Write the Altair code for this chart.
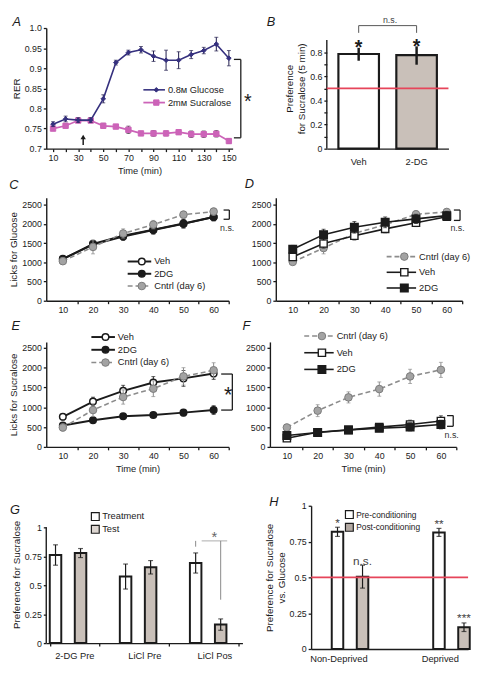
import altair as alt
import pandas as pd

FONT = "Liberation Sans"
INK = "#1b1b1b"
RED = "#e6455a"

# ------------------------------------------------------------------ data
# A: respiratory exchange ratio
a_time = [10, 20, 30, 40, 50, 60, 70, 80, 90, 100, 110, 120, 130, 140, 150]
a_glucose = [0.761, 0.774, 0.771, 0.771, 0.824, 0.914, 0.939, 0.946, 0.930, 0.920, 0.920, 0.934, 0.944, 0.960, 0.925]
a_glucose_err = [0.006, 0.007, 0.006, 0.006, 0.010, 0.006, 0.006, 0.008, 0.013, 0.025, 0.021, 0.010, 0.008, 0.017, 0.019]
a_sucralose = [0.750, 0.757, 0.770, 0.770, 0.757, 0.755, 0.747, 0.738, 0.738, 0.738, 0.741, 0.736, 0.736, 0.737, 0.719]
a_sucralose_err = [0.005, 0.005, 0.005, 0.005, 0.006, 0.005, 0.009, 0.005, 0.007, 0.006, 0.005, 0.008, 0.008, 0.008, 0.006]
a_names = ["0.8ᴍ Glucose", "2mᴍ Sucralose"]

# B: 5-min preference
b_groups = ["Veh", "2-DG"]
b_pref = [0.785, 0.775]
b_err_lo = [0.729, 0.696]
b_err_hi = [0.836, 0.848]
b_marks = ["*", "*"]
chance_level = [0.5]

# C-F: cumulative licks
t_min = [10, 20, 30, 40, 50, 60]
names_cde = ["Veh", "2DG", "Cntrl (day 6)"]

c_veh = [1080, 1480, 1690, 1850, 2010, 2180]
c_veh_err = [50, 80, 90, 100, 110, 100]
c_2dg = [1090, 1460, 1670, 1840, 2000, 2180]
c_2dg_err = [50, 90, 100, 110, 110, 100]
c_cntrl = [1030, 1400, 1750, 1980, 2240, 2320]
c_cntrl_err = [60, 180, 120, 110, 90, 90]

d_cntrl = [1010, 1370, 1750, 1980, 2250, 2310]
d_cntrl_err = [60, 150, 120, 100, 90, 80]
d_veh = [1140, 1490, 1690, 1870, 2030, 2185]
d_veh_err = [70, 120, 110, 100, 100, 90]
d_2dg = [1340, 1720, 1910, 2040, 2130, 2215]
d_2dg_err = [100, 140, 150, 140, 120, 110]

e_veh = [760, 1145, 1415, 1625, 1730, 1855]
e_veh_err = [80, 110, 140, 150, 200, 150]
e_2dg = [540, 675, 775, 805, 865, 930]
e_2dg_err = [60, 60, 60, 60, 80, 110]
e_cntrl = [490, 930, 1260, 1470, 1780, 1935]
e_cntrl_err = [90, 160, 180, 200, 220, 190]

f_cntrl = [490, 915, 1250, 1460, 1780, 1945]
f_cntrl_err = [80, 150, 140, 180, 180, 190]
f_veh = [220, 370, 430, 500, 565, 655]
f_veh_err = [60, 50, 60, 70, 110, 130]
f_2dg = [290, 365, 425, 470, 505, 565]
f_2dg_err = [60, 60, 60, 80, 100, 110]

# G: conditioned preference
g_groups = ["2-DG Pre", "LiCl Pre", "LiCl Pos"]
g_conds = ["Treatment", "Test"]
g_treatment = [0.761, 0.575, 0.692]
g_treatment_err = [0.088, 0.108, 0.087]
g_test = [0.778, 0.655, 0.160]
g_test_err = [0.039, 0.058, 0.049]

# H: preference vs glucose
h_groups = ["Non-Deprived", "Deprived"]
h_conds = ["Pre-conditioning", "Post-conditioning"]
h_pre = [0.818, 0.814]
h_pre_err = [0.032, 0.028]
h_post = [0.505, 0.152]
h_post_err = [0.08, 0.03]
h_marks_pre = ["*", "**"]
h_marks_post = ["n.s.", "***"]


# ------------------------------------------------------------------ helpers
def one(label):
    return pd.DataFrame({"t": [label]})


def series_df(x, v, e):
    return pd.DataFrame({"t": x, "v": v,
                         "lo": [a - b for a, b in zip(v, e)],
                         "hi": [a + b for a, b in zip(v, e)]})


def letter(ch, px, py):
    return alt.Chart(one(ch)).mark_text(
        font=FONT, fontSize=13, fontStyle="italic", align="center",
        baseline="middle", color=INK).encode(
        x=alt.value(px), y=alt.value(py), text="t:N")


def series_layers(df, X, Y, st):
    base = alt.Chart(df)
    out = [base.mark_rule(color=st["err"], strokeWidth=1).encode(
        x=X("t"), y=Y("lo"), y2="hi")]
    for f in ("lo", "hi"):
        out.append(base.mark_tick(orient="horizontal", size=st["cap"],
                                  thickness=1, color=st["err"]).encode(
            x=X("t"), y=Y(f)))
    lk = dict(color=st["line"], strokeWidth=st["lw"])
    if st.get("dash"):
        lk["strokeDash"] = st["dash"]
    out.append(base.mark_line(**lk).encode(x=X("t"), y=Y("v")))
    out.append(base.mark_point(shape=st["shape"], filled=True, fill=st["fill"],
                               stroke=st["stroke"], strokeWidth=st["sw"],
                               size=st["size"], opacity=1).encode(
        x=X("t"), y=Y("v")))
    return out


def legend_line(label, px, py, length, st, fs=9.5):
    d = one(label)
    lk = dict(color=st["line"], strokeWidth=st["lw"])
    if st.get("dash"):
        lk["strokeDash"] = st["dash"]
    return [
        alt.Chart(d).mark_rule(**lk).encode(
            x=alt.value(px), x2=alt.value(px + length), y=alt.value(py)),
        alt.Chart(d).mark_point(shape=st["shape"], filled=True, fill=st["fill"],
                                stroke=st["stroke"], strokeWidth=st["sw"],
                                size=st["size"], opacity=1).encode(
            x=alt.value(px + length * 0.6), y=alt.value(py)),
        alt.Chart(d).mark_text(font=FONT, fontSize=fs, align="left",
                               baseline="middle", color=INK).encode(
            x=alt.value(px + length + 3), y=alt.value(py), text="t:N"),
    ]


def legend_box(label, px, py, fill, fs=9.5):
    d = one(label)
    return [
        alt.Chart(d).mark_point(shape="square", filled=True, fill=fill,
                                stroke=INK, strokeWidth=1.2, size=64,
                                opacity=1).encode(x=alt.value(px), y=alt.value(py)),
        alt.Chart(d).mark_text(font=FONT, fontSize=fs, align="left",
                               baseline="middle", color=INK).encode(
            x=alt.value(px + 7), y=alt.value(py), text="t:N"),
    ]


def bracket(X, Y, xv, xa, y0, y1, color=INK, width=1.3):
    seg = pd.DataFrame({"x": [xv, xa, xa], "x2": [xv, xv, xv],
                        "y": [y0, y0, y1], "y2": [y1, y0, y1]})
    return alt.Chart(seg).mark_rule(color=color, strokeWidth=width).encode(
        x=X("x"), x2="x2", y=Y("y"), y2="y2")


def note(X, Y, label, xv, yv, fs, color=INK, weight="normal"):
    d = pd.DataFrame({"x": [xv], "y": [yv], "t": [label]})
    return alt.Chart(d).mark_text(font=FONT, fontSize=fs, color=color,
                                  fontWeight=weight, align="center",
                                  baseline="middle").encode(
        x=X("x"), y=Y("y"), text="t:N")


# ------------------------------------------------------------------ styles
ST_VEH_C = dict(line=INK, lw=2, fill="white", stroke=INK, sw=1.5, shape="circle", size=45, err=INK, cap=4)
ST_2DG_C = dict(line=INK, lw=2, fill=INK, stroke=INK, sw=1.5, shape="circle", size=45, err=INK, cap=4)
ST_CNT = dict(line="#8c8c8c", lw=1.6, dash=[5, 3], fill="#a3a3a3", stroke="#7a7a7a", sw=1, shape="circle", size=60, err="#8c8c8c", cap=4)
ST_VEH_D = dict(line=INK, lw=1.6, fill="white", stroke=INK, sw=1.4, shape="square", size=55, err=INK, cap=4)
ST_2DG_D = dict(line=INK, lw=1.6, fill=INK, stroke=INK, sw=1.4, shape="square", size=60, err=INK, cap=4)
ST_GLU = dict(line="#35307e", lw=1.6, fill="#35307e", stroke="#35307e", sw=1, shape="diamond", size=22, err="#1e1a4a", cap=4)
ST_SUC = dict(line="#cc63b8", lw=1.8, fill="#cc63b8", stroke="#cc63b8", sw=1, shape="square", size=30, err="#3a2a3a", cap=4)

# ------------------------------------------------------------------ panel A
A_W, A_H = 190, 123
ax_a_x = alt.Axis(values=a_time, labelExpr="(datum.value - 10) % 20 == 0 ? datum.label : ''",
                  title="Time (min)", titleFontSize=9.5)
ax_a_y = alt.Axis(values=[0.7, 0.75, 0.8, 0.85, 0.9, 0.95, 1.0], format=".2~f",
                  labelExpr="datum.value == 1 ? '1.0' : datum.label", title="RER")
AX = lambda f: alt.X(f, type="quantitative", scale=alt.Scale(domain=[4.6, 153], nice=False, zero=False), axis=ax_a_x)
AY = lambda f: alt.Y(f, type="quantitative", scale=alt.Scale(domain=[0.7, 1.0], nice=False, zero=False), axis=ax_a_y)

a_layers = []
a_layers += series_layers(series_df(a_time, a_sucralose, a_sucralose_err), AX, AY, ST_SUC)
a_layers += series_layers(series_df(a_time, a_glucose, a_glucose_err), AX, AY, ST_GLU)
arrow = pd.DataFrame({"x": [34], "y": [0.709], "y2": [0.729]})
a_layers.append(alt.Chart(arrow).mark_rule(color=INK, strokeWidth=1.5).encode(x=AX("x"), y=AY("y"), y2="y2"))
a_layers.append(alt.Chart(arrow).mark_point(shape="triangle-up", filled=True, color=INK, size=30, opacity=1).encode(x=AX("x"), y=AY("y2")))
a_layers.append(bracket(AX, AY, 159.5, 154, 0.727, 0.922))
a_layers.append(note(AX, AY, "*", 165, 0.815, 20))
a_layers += legend_line(a_names[0], 99, 63, 22, ST_GLU)
a_layers += legend_line(a_names[1], 99, 76, 22, ST_SUC)
a_layers.append(letter("A", -30, -6))
panel_a = alt.layer(*a_layers).properties(width=A_W, height=A_H)

# ------------------------------------------------------------------ panel B
B_W, B_H = 124, A_H
bx_axis = alt.Axis(title=None, labelAngle=0, ticks=False, labelPadding=8, labelFontSize=9.5)
BX = lambda f: alt.X(f, type="nominal", sort=b_groups, scale=alt.Scale(paddingInner=0.3, paddingOuter=0.2), axis=bx_axis)
by_axis = alt.Axis(values=[0, 0.1, 0.2, 0.3, 0.4, 0.5, 0.6, 0.7, 0.8], format=".1~f", domain=False,
                   labelExpr="round(datum.value * 10) % 2 == 0 ? datum.label : ''",
                   title=["Preference", "for Sucralose (5 min)"])
BY = lambda f: alt.Y(f, type="quantitative", scale=alt.Scale(domain=[0, 1.0], nice=False), axis=by_axis)
b_df = pd.DataFrame({"g": b_groups, "v": b_pref, "lo": b_err_lo, "hi": b_err_hi, "m": b_marks})
b_layers = [
    alt.Chart(pd.DataFrame({"y": [0], "y2": [0.9]})).mark_rule(color=INK, strokeWidth=1.4).encode(
        x=alt.value(0), y=BY("y"), y2="y2"),
    alt.Chart(b_df).mark_bar(stroke=INK, strokeWidth=2.2).encode(
        x=BX("g"), y=BY("v"),
        fill=alt.Fill("g:N", scale=alt.Scale(domain=b_groups, range=["white", "#c9c0b9"]), legend=None)),
    alt.Chart(b_df).mark_rule(color=INK, strokeWidth=2.5).encode(x=BX("g"), y=BY("lo"), y2="hi"),
    alt.Chart(pd.DataFrame({"c": chance_level})).mark_rule(color=RED, strokeWidth=1.8).encode(y=BY("c")),
    alt.Chart(b_df).transform_calculate(sy="datum.hi + 0.035").mark_text(
        font=FONT, fontSize=20, fontWeight="bold", color=INK, baseline="middle", dy=5).encode(
        x=BX("g"), y=BY("sy:Q"), text="m:N"),
]
ns_b = pd.DataFrame({"g": ["Veh", "Veh", "2-DG"], "g2": ["2-DG", "Veh", "2-DG"],
                     "y": [1.02, 0.96, 0.96], "y2": [1.02, 1.02, 1.02]})
b_layers.append(alt.Chart(ns_b).mark_rule(color="#555", strokeWidth=1).encode(
    x=BX("g"), x2="g2", y=BY("y"), y2="y2"))
b_layers.append(alt.Chart(pd.DataFrame({"y": [1.07], "t": ["n.s."]})).mark_text(
    font=FONT, fontSize=9, color="#444", baseline="middle").encode(
    x=alt.value(B_W * 0.52), y=BY("y"), text="t:N"))
b_layers.append(letter("B", -57, -6))
panel_b = alt.layer(*b_layers).properties(width=B_W, height=B_H)


# ------------------------------------------------------------------ time panels
def time_axes(xtitle, ytitle, ymax):
    ax_x = alt.Axis(values=list(range(10, 70, 5)),
                    labelExpr="datum.value % 10 == 0 ? datum.label : ''",
                    tickOpacity={"condition": {"test": "datum.value % 10 == 0", "value": 0}, "value": 1},
                    title=xtitle, titleFontSize=9.5)
    ax_y = alt.Axis(values=[0, 500, 1000, 1500, 2000, 2500], format="d", title=ytitle)
    X = lambda f: alt.X(f, type="quantitative", scale=alt.Scale(domain=[4.5, 65], nice=False, zero=False), axis=ax_x)
    Y = lambda f: alt.Y(f, type="quantitative", scale=alt.Scale(domain=[0, ymax], nice=False), axis=ax_y)
    return X, Y


# C
C_W, C_H = 186, 105
CX, CY = time_axes(None, "Licks for Glucose", 2680)
c_layers = []
c_layers += series_layers(series_df(t_min, c_veh, c_veh_err), CX, CY, ST_VEH_C)
c_layers += series_layers(series_df(t_min, c_2dg, c_2dg_err), CX, CY, ST_2DG_C)
c_layers += series_layers(series_df(t_min, c_cntrl, c_cntrl_err), CX, CY, ST_CNT)
c_layers.append(bracket(CX, CY, 65.2, 63.3, 2120, 2360))
c_layers.append(note(CX, CY, "n.s.", 64.5, 1880, 9, color="#333"))
for i, (nm, st) in enumerate(zip(names_cde, [ST_VEH_C, ST_2DG_C, ST_CNT])):
    c_layers += legend_line(nm, 83, 65 + 12.5 * i, 24, st)
c_layers.append(letter("C", -33, -13))
panel_c = alt.layer(*c_layers).properties(width=C_W, height=C_H)

# D
D_W, D_H = 190, 105
DX, DY = time_axes(None, None, 2680)
d_layers = []
d_layers += series_layers(series_df(t_min, d_cntrl, d_cntrl_err), DX, DY, ST_CNT)
d_layers += series_layers(series_df(t_min, d_veh, d_veh_err), DX, DY, ST_VEH_D)
d_layers += series_layers(series_df(t_min, d_2dg, d_2dg_err), DX, DY, ST_2DG_D)
d_layers.append(bracket(DX, DY, 64.3, 62.3, 2090, 2360))
d_layers.append(note(DX, DY, "n.s.", 63.5, 1880, 9, color="#333"))
for i, (nm, st) in enumerate(zip(["Cntrl (day 6)", "Veh", "2DG"], [ST_CNT, ST_VEH_D, ST_2DG_D])):
    d_layers += legend_line(nm, 113, 60 + 16 * i, 30, st)
d_layers.append(letter("D", -27, -14))
panel_d = alt.layer(*d_layers).properties(width=D_W, height=D_H)

# E
E_W, E_H = 186, 107
EX, EY = time_axes("Time (min)", "Licks for Sucralose", 2650)
e_layers = []
e_layers += series_layers(series_df(t_min, e_veh, e_veh_err), EX, EY, ST_VEH_C)
e_layers += series_layers(series_df(t_min, e_2dg, e_2dg_err), EX, EY, ST_2DG_C)
e_layers += series_layers(series_df(t_min, e_cntrl, e_cntrl_err), EX, EY, ST_CNT)
e_layers.append(bracket(EX, EY, 66.2, 62.5, 930, 1840))
e_layers.append(note(EX, EY, "*", 64.8, 1300, 22))
for i, (nm, st) in enumerate(zip(names_cde, [ST_VEH_C, ST_2DG_C, ST_CNT])):
    e_layers += legend_line(nm, 46, -5 + 13 * i, 24, st)
e_layers.append(letter("E", -31, -16))
panel_e = alt.layer(*e_layers).properties(width=E_W, height=E_H)

# F
F_W, F_H = 190, 107
FX, FY = time_axes("Time (min)", None, 2650)
f_layers = []
f_layers += series_layers(series_df(t_min, f_cntrl, f_cntrl_err), FX, FY, ST_CNT)
f_layers += series_layers(series_df(t_min, f_veh, f_veh_err), FX, FY, ST_VEH_D)
f_layers += series_layers(series_df(t_min, f_2dg, f_2dg_err), FX, FY, ST_2DG_D)
f_layers.append(bracket(FX, FY, 64.0, 62.0, 520, 790))
f_layers.append(note(FX, FY, "n.s.", 63.5, 300, 9, color="#333"))
for i, (nm, st) in enumerate(zip(["Cntrl (day 6)", "Veh", "2DG"], [ST_CNT, ST_VEH_D, ST_2DG_D])):
    f_layers += legend_line(nm, 35, -6 + 17 * i, 30, st)
f_layers.append(letter("F", -24, -16))
panel_f = alt.layer(*f_layers).properties(width=F_W, height=F_H)

# ------------------------------------------------------------------ panel G
H_W, H_H = 160, 146
G_W, G_H = 200, 140
g_top = 1.0 * G_H / (G_H - 22)
gx_axis = alt.Axis(title=None, labelAngle=0, tickBand="extent", labelFontSize=9.5, labelPadding=5)
GX = lambda f: alt.X(f, type="nominal", sort=g_groups, scale=alt.Scale(paddingInner=0.3, paddingOuter=0.05), axis=gx_axis)
GO = alt.XOffset("c:N", sort=g_conds, scale=alt.Scale(paddingInner=0.08))
gy_axis = alt.Axis(values=[0, 0.25, 0.5, 0.75, 1], format=".2~f", domain=False, title="Preference for Sucralose")
GY = lambda f: alt.Y(f, type="quantitative", scale=alt.Scale(domain=[0, g_top], nice=False), axis=gy_axis)
g_df = pd.DataFrame({"g": g_groups * 2, "c": [g_conds[0]] * 3 + [g_conds[1]] * 3,
                     "v": g_treatment + g_test, "e": g_treatment_err + g_test_err})
g_df["lo"] = g_df["v"] - g_df["e"]
g_df["hi"] = g_df["v"] + g_df["e"]
g_layers = [
    alt.Chart(pd.DataFrame({"y": [0], "y2": [1]})).mark_rule(color=INK, strokeWidth=1.4).encode(
        x=alt.value(0), y=GY("y"), y2="y2"),
    alt.Chart(g_df).mark_bar(stroke=INK, strokeWidth=2).encode(
        x=GX("g"), xOffset=GO, y=GY("v"),
        fill=alt.Fill("c:N", scale=alt.Scale(domain=g_conds, range=["white", "#ddd6d1"]), legend=None)),
    alt.Chart(g_df).mark_rule(color=INK, strokeWidth=1.2).encode(x=GX("g"), xOffset=GO, y=GY("lo"), y2="hi"),
    alt.Chart(g_df).mark_tick(orient="horizontal", size=5, thickness=1.2, color=INK).encode(x=GX("g"), xOffset=GO, y=GY("lo")),
    alt.Chart(g_df).mark_tick(orient="horizontal", size=5, thickness=1.2, color=INK).encode(x=GX("g"), xOffset=GO, y=GY("hi")),
]
g_br = pd.DataFrame({"g": ["LiCl Pos", "LiCl Pos"], "c": g_conds, "y": [0.833, 0.375], "y2": [0.883, 0.883]})
g_layers.append(alt.Chart(g_br).mark_rule(color="#888", strokeWidth=1).encode(x=GX("g"), xOffset=GO, y=GY("y"), y2="y2"))
g_layers.append(alt.Chart(pd.DataFrame({"g": ["LiCl Pos"], "y": [0.883]})).mark_tick(
    orient="horizontal", size=26, thickness=1, color="#888").encode(x=GX("g"), y=GY("y")))
g_layers.append(alt.Chart(pd.DataFrame({"g": ["LiCl Pos"], "y": [0.95], "t": ["*"]})).mark_text(
    font=FONT, fontSize=15, color="#666", baseline="middle", dy=4).encode(x=GX("g"), y=GY("y"), text="t:N"))
g_layers += legend_box(g_conds[0], 50, 11, "white")
g_layers += legend_box(g_conds[1], 50, 24, "#ddd6d1")
g_layers.append(letter("G", -32, 4))
panel_g = alt.layer(*g_layers).properties(width=G_W, height=G_H)

# ------------------------------------------------------------------ panel H
hx_axis = alt.Axis(title=None, labelAngle=0, ticks=False, labelFontSize=9.5, labelPadding=5)
HX = lambda f: alt.X(f, type="nominal", sort=h_groups, scale=alt.Scale(paddingInner=0.613, paddingOuter=0.08), axis=hx_axis)
HO = alt.XOffset("c:N", sort=h_conds, scale=alt.Scale(paddingInner=0.05))
hy_axis = alt.Axis(values=[0, 0.25, 0.5, 0.75, 1], format=".2~f", title=["Preference for Sucralose", "vs. Glucose"])
HY = lambda f: alt.Y(f, type="quantitative", scale=alt.Scale(domain=[0, 1], nice=False), axis=hy_axis)
h_df = pd.DataFrame({"g": h_groups * 2, "c": [h_conds[0]] * 2 + [h_conds[1]] * 2,
                     "v": h_pre + h_post, "e": h_pre_err + h_post_err,
                     "m": h_marks_pre + h_marks_post})
h_df["lo"] = h_df["v"] - h_df["e"]
h_df["hi"] = h_df["v"] + h_df["e"]
h_layers = [
    alt.Chart(h_df).mark_bar(stroke=INK, strokeWidth=2).encode(
        x=HX("g"), xOffset=HO, y=HY("v"),
        fill=alt.Fill("c:N", scale=alt.Scale(domain=h_conds, range=["white", "#b3a9a2"]), legend=None)),
    alt.Chart(h_df).mark_rule(color=INK, strokeWidth=1.2).encode(x=HX("g"), xOffset=HO, y=HY("lo"), y2="hi"),
    alt.Chart(h_df).mark_tick(orient="horizontal", size=5, thickness=1.2, color=INK).encode(x=HX("g"), xOffset=HO, y=HY("lo")),
    alt.Chart(h_df).mark_tick(orient="horizontal", size=5, thickness=1.2, color=INK).encode(x=HX("g"), xOffset=HO, y=HY("hi")),
    alt.Chart(pd.DataFrame({"c": chance_level})).mark_rule(color=RED, strokeWidth=2).encode(y=HY("c")),
    alt.Chart(h_df).transform_calculate(sy="datum.hi + 0.045").mark_text(
        font=FONT, fontSize=12, color="#444", baseline="middle", dy=2).encode(
        x=HX("g"), xOffset=HO, y=HY("sy:Q"), text="m:N"),
]
h_layers += legend_box(h_conds[0], 39, 9, "white", fs=8.5)
h_layers += legend_box(h_conds[1], 39, 22, "#b3a9a2", fs=8.5)
h_layers.append(letter("H", -38, -4))
panel_h = alt.layer(*h_layers).properties(width=H_W, height=H_H)

# ------------------------------------------------------------------ layout
row1 = alt.hconcat(panel_a, panel_b, spacing=14)
row2 = alt.hconcat(panel_c, panel_d, spacing=8)
row3 = alt.hconcat(panel_e, panel_f, spacing=8)
row4 = alt.hconcat(panel_g, panel_h, spacing=20)

top_part = alt.vconcat(row1, row2, spacing=2)
bottom_part = alt.vconcat(row3, row4, spacing=22)
chart = alt.vconcat(top_part, bottom_part, spacing=4).properties(
    padding={"left": 0, "top": 0, "right": 0, "bottom": 0}
).configure(padding=0).configure_view(stroke="transparent").configure_axis(
    grid=False, domainColor=INK, domainWidth=1.4, tickColor=INK, tickWidth=1.3,
    tickSize=3, labelFont=FONT, titleFont=FONT, labelFontSize=9, titleFontSize=10,
    labelColor=INK, titleColor=INK, titleFontWeight="normal", labelPadding=2,
    titlePadding=3
).configure_text(font=FONT)

chart.save("out.html", embed_options={"renderer": "svg", "actions": False})
